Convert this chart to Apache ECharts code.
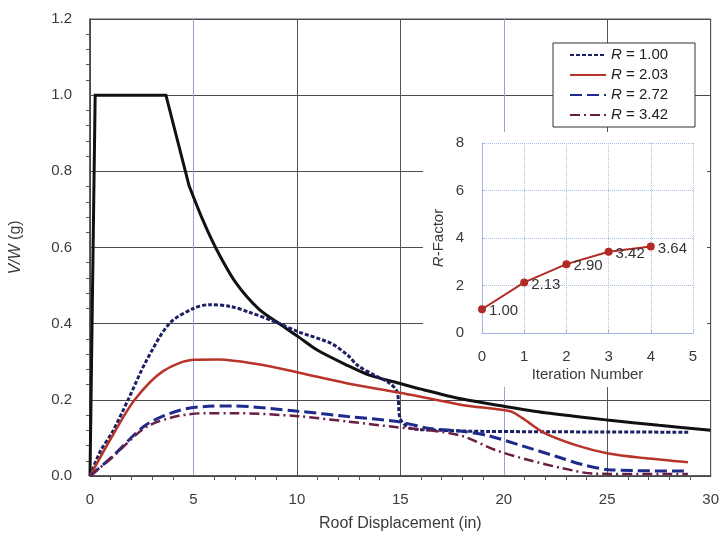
<!DOCTYPE html>
<html><head><meta charset="utf-8">
<script src="https://cdn.jsdelivr.net/npm/echarts@6/dist/echarts.min.js"></script>
<style>html,body{margin:0;padding:0;background:#fff}#c{width:722px;height:537px}</style>
</head><body><div id="c"></div>
<script>
// Demand / capacity curve (black)
const demandX = [0, 0.25, 3.67, 4.79, 5.43, 6.07, 7.03, 8.15, 9.26, 10.06, 11, 12.46, 13.5, 14.85, 16, 18, 20, 22, 25, 27.5, 30];
const demandV = [0, 1.0, 1.0, 0.762, 0.675, 0.6, 0.509, 0.439, 0.396, 0.366, 0.33, 0.29, 0.265, 0.245, 0.228, 0.202, 0.183, 0.166, 0.147, 0.133, 0.12];
// R = 1.00
const r100X = [0, 0.5, 1.1, 1.84, 2.7, 3.83, 5, 5.8, 6.8, 7.7, 8.94, 10.06, 11.66, 12.46, 12.94, 13.74, 14.5, 14.85, 15.0, 15.5, 17, 19.2, 29];
const r100V = [0, 0.065, 0.117, 0.2, 0.3, 0.4, 0.44, 0.45, 0.445, 0.43, 0.405, 0.379, 0.348, 0.317, 0.29, 0.265, 0.243, 0.22, 0.15, 0.125, 0.12, 0.117, 0.115];
// R = 2.03
const r203X = [0, 1.1, 2.16, 3.5, 5, 6.2, 8.47, 10.06, 12.46, 14.85, 15.8, 18.05, 20.3, 20.9, 22, 23.6, 25, 26.8, 28.9];
const r203V = [0, 0.107, 0.2, 0.274, 0.305, 0.306, 0.29, 0.272, 0.243, 0.22, 0.21, 0.186, 0.17, 0.152, 0.112, 0.079, 0.06, 0.047, 0.036];
// R = 2.72
const r272X = [0, 1.1, 2.7, 4.3, 5.7, 6.85, 10.06, 12.46, 14.85, 16.4, 18.05, 19.3, 20.9, 22.5, 23.8, 25.2, 28.9];
const r272V = [0, 0.052, 0.134, 0.172, 0.183, 0.184, 0.17, 0.156, 0.143, 0.125, 0.117, 0.105, 0.079, 0.052, 0.03, 0.016, 0.013];
// R = 3.42
const r342X = [0, 1.1, 2.7, 4.3, 5.7, 7, 10.06, 12.46, 14.85, 16.4, 18, 19.6, 21.2, 22.8, 24.4, 28.9];
const r342V = [0, 0.05, 0.128, 0.158, 0.165, 0.165, 0.157, 0.143, 0.128, 0.12, 0.105, 0.068, 0.042, 0.021, 0.006, 0.005];
// Inset: R-factor vs iteration
const iterations = [0, 1, 2, 3, 4];
const rFactors = [1.00, 2.13, 2.90, 3.42, 3.64];
const legendNames = ['R = 1.00', 'R = 2.03', 'R = 2.72', 'R = 3.42'];

const pairs = (xs, ys) => xs.map((x, i) => [x, ys[i]]);
const FONT = 'Liberation Sans, Arial, sans-serif';
const TXT = '#3a3a3a';
const demandPts = pairs(demandX, demandV);

const chart = echarts.init(document.getElementById('c'), null, {renderer: 'canvas'});
const lineSeries = (name, xs, ys, color, width, type) => ({
  name, type: 'line', xAxisIndex: 0, yAxisIndex: 0, data: pairs(xs, ys),
  symbol: 'none', smooth: 0.3, z: 3,
  lineStyle: {color, width, type}, itemStyle: {color}
});

chart.setOption({
  animation: false,
  backgroundColor: '#fff',
  textStyle: {fontFamily: FONT},
  graphic: [
    {type: 'rect', z: 1, shape: {x: 423, y: 132, width: 284, height: 255}, style: {fill: '#fff'}},
    {type: 'rect', z: 1, shape: {x: 553, y: 43, width: 142, height: 84}, style: {fill: '#fff', stroke: '#333', lineWidth: 1}}
  ],
  grid: [
    {left: 90, right: 6, top: 19, bottom: 59, show: true, borderColor: '#555', borderWidth: 1},
    {left: 482, right: 29, top: 143, bottom: 204, z: 5}
  ],
  legend: {
    data: legendNames, orient: 'vertical', left: 569, top: 45, padding: 0,
    itemWidth: 36, itemHeight: 14, itemGap: 0, z: 6,
    itemStyle: {opacity: 0, borderWidth: 0},
    textStyle: {fontSize: 15, color: '#222', lineHeight: 20, fontFamily: FONT,
      rich: {i: {fontStyle: 'italic', fontSize: 15, color: '#222', fontFamily: FONT}}},
    formatter: n => '{i|R}' + n.slice(1)
  },
  xAxis: [
    {gridIndex: 0, type: 'value', min: 0, max: 30, interval: 5,
     name: 'Roof Displacement (in)', nameLocation: 'middle', nameGap: 40,
     nameTextStyle: {fontSize: 16, color: TXT, fontFamily: FONT},
     axisLine: {lineStyle: {color: '#444', width: 1.5}},
     axisTick: {show: false},
     minorTick: {show: true, splitNumber: 5, length: 4, lineStyle: {color: '#555'}},
     axisLabel: {fontSize: 15, color: TXT, margin: 16, fontFamily: FONT},
     splitLine: {show: true, lineStyle: {color: ['#555', '#98a2cc', '#555', '#555', '#98a2cc', '#555', '#555'], width: 1}}},
    {gridIndex: 1, type: 'value', min: 0, max: 5, interval: 1, z: 5,
     name: 'Iteration Number', nameLocation: 'middle', nameGap: 34,
     nameTextStyle: {fontSize: 15, color: TXT, fontFamily: FONT},
     axisLine: {lineStyle: {color: '#9fb6dd', width: 1}},
     axisTick: {show: true, inside: true, length: 3, lineStyle: {color: '#9fb6dd'}},
     axisLabel: {fontSize: 15, color: TXT, margin: 16, fontFamily: FONT},
     splitLine: {show: true, lineStyle: {color: '#a9c0e6', type: 'dotted', width: 1}}}
  ],
  yAxis: [
    {gridIndex: 0, type: 'value', min: 0, max: 1.2, interval: 0.2,
     name: '{i|V/W} (g)', nameLocation: 'middle', nameGap: 66,
     nameTextStyle: {fontSize: 16, color: TXT, fontFamily: FONT,
       rich: {i: {fontStyle: 'italic', fontSize: 16, color: TXT, fontFamily: FONT}}},
     axisLine: {show: true, lineStyle: {color: '#444', width: 1.5}},
     axisTick: {show: false},
     minorTick: {show: true, splitNumber: 5, length: 4, lineStyle: {color: '#555'}},
     axisLabel: {fontSize: 15, color: TXT, margin: 18, fontFamily: FONT, formatter: v => v.toFixed(1)},
     splitLine: {show: true, lineStyle: {color: '#4a4a55', width: 1}}},
    {gridIndex: 1, type: 'value', min: 0, max: 8, interval: 2, z: 5,
     name: '{i|R}-Factor', nameLocation: 'middle', nameGap: 36,
     nameTextStyle: {fontSize: 15, color: TXT, fontFamily: FONT,
       rich: {i: {fontStyle: 'italic', fontSize: 15, color: TXT, fontFamily: FONT}}},
     axisLine: {show: true, lineStyle: {color: '#9fb6dd', width: 1}},
     axisTick: {show: true, inside: true, length: 3, lineStyle: {color: '#9fb6dd'}},
     axisLabel: {fontSize: 15, color: TXT, margin: 18, fontFamily: FONT},
     splitLine: {show: true, lineStyle: {color: '#a9c0e6', type: 'dotted', width: 1}}}
  ],
  series: [
    {name: 'demand-plateau', type: 'line', data: demandPts.slice(0, 4), symbol: 'none', smooth: false, z: 3,
     lineStyle: {color: '#111', width: 3, join: 'miter'}, itemStyle: {color: '#111'}},
    {name: 'demand-decay', type: 'line', data: demandPts.slice(3), symbol: 'none', smooth: 0.3, z: 3,
     lineStyle: {color: '#111', width: 3}, itemStyle: {color: '#111'}},
    lineSeries(legendNames[0], r100X, r100V, '#1b2064', 3, [4, 2]),
    lineSeries(legendNames[1], r203X, r203V, '#b8332a', 2.5, 'solid'),
    lineSeries(legendNames[2], r272X, r272V, '#1e2a8c', 3, [12, 5]),
    lineSeries(legendNames[3], r342X, r342V, '#6a1e44', 2.5, [10, 4, 2, 4]),
    {name: 'inset', type: 'line', xAxisIndex: 1, yAxisIndex: 1, z: 7,
     data: pairs(iterations, rFactors), symbol: 'circle', symbolSize: 8,
     lineStyle: {color: '#b22a24', width: 2}, itemStyle: {color: '#b22a24'},
     label: {show: true, position: 'right', distance: 3, offset: [0, 2], fontSize: 15, color: '#333', fontFamily: FONT,
       formatter: p => p.value[1].toFixed(2)}}
  ]
});
</script></body></html>
